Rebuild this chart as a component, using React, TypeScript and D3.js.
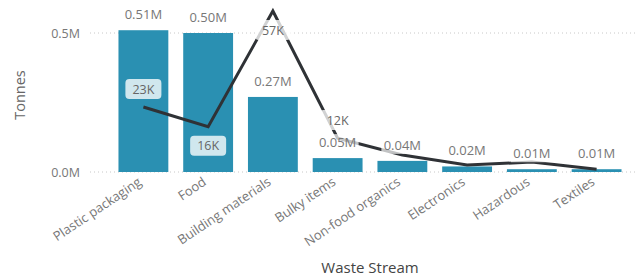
import { useEffect, useRef } from "react";
import * as d3 from "d3";

const categories = [
  "Plastic packaging",
  "Food",
  "Building materials",
  "Bulky items",
  "Non-food organics",
  "Electronics",
  "Hazardous",
  "Textiles",
];
// tonnes (millions), bar series
const tonnes = [0.51, 0.5, 0.27, 0.05, 0.04, 0.02, 0.01, 0.01];
// line series (thousands)
const lineValues = [23, 16, 57, 12, 6, 2.5, 3.5, 1];
const lineLabels = ["23K", "16K", "57K", "12K", "", "", "", ""];
const yTicks = [0, 0.5];

const W = 641;
const H = 280;
const FONT = "'Open Sans', 'Segoe UI', sans-serif";

export default function App() {
  const ref = useRef<SVGSVGElement>(null);

  useEffect(() => {
    if (!ref.current) return;
    const svg = d3.select(ref.current);
    svg.selectAll("*").remove();

    const x = d3
      .scaleBand<string>()
      .domain(categories)
      .range([112, 628])
      .paddingInner(0.23)
      .paddingOuter(0.1);
    const y = d3.scaleLinear().domain([0, 0.5]).range([172, 33]);
    const y2 = d3.scaleLinear().domain([0, 57]).range([172, 11]);

    // gridlines + y tick labels
    const grid = svg.append("g");
    yTicks.forEach((t) => {
      grid
        .append("line")
        .attr("x1", 90)
        .attr("x2", 636)
        .attr("y1", y(t))
        .attr("y2", y(t))
        .attr("stroke", "#c8c8c8")
        .attr("stroke-width", 1)
        .attr("stroke-dasharray", "1,3");
      grid
        .append("text")
        .attr("x", 80)
        .attr("y", y(t) + 4.5)
        .attr("text-anchor", "end")
        .attr("fill", "#777")
        .attr("font-size", "12.5px")
        .attr("font-family", FONT)
        .text(`${t.toFixed(1)}M`);
    });

    // bars
    svg
      .append("g")
      .selectAll("rect")
      .data(tonnes)
      .enter()
      .append("rect")
      .attr("x", (_, i) => x(categories[i]) ?? 0)
      .attr("y", (d) => y(d))
      .attr("width", x.bandwidth())
      .attr("height", (d) => y(0) - y(d))
      .attr("fill", "#2a90b2");

    // line
    const line = d3
      .line<number>()
      .x((_, i) => (x(categories[i]) ?? 0) + x.bandwidth() / 2)
      .y((d) => y2(d));
    svg
      .append("path")
      .datum(lineValues)
      .attr("fill", "none")
      .attr("stroke", "#2f3236")
      .attr("stroke-width", 3)
      .attr("stroke-linejoin", "miter")
      .attr("d", line);

    // bar labels
    const barLab = svg.append("g");
    tonnes.forEach((d, i) => {
      const cx = (x(categories[i]) ?? 0) + x.bandwidth() / 2;
      const by = y(d) - 11;
      barLab
        .append("rect")
        .attr("x", cx - 21)
        .attr("y", by - 13)
        .attr("width", 42)
        .attr("height", 17)
        .attr("fill", "#fff")
        .attr("opacity", 0.7);
      barLab
        .append("text")
        .attr("x", cx)
        .attr("y", by)
        .attr("text-anchor", "middle")
        .attr("fill", "#777")
        .attr("font-size", "13px")
        .attr("font-family", FONT)
        .text(`${d.toFixed(2)}M`);
    });

    // line labels
    const lineLab = svg.append("g");
    lineValues.forEach((d, i) => {
      const label = lineLabels[i];
      if (!label) return;
      const cx = (x(categories[i]) ?? 0) + x.bandwidth() / 2;
      const py = y2(d);
      const prev = i > 0 ? lineValues[i - 1] : d;
      const next = i < lineValues.length - 1 ? lineValues[i + 1] : d;
      const isPeak = d >= prev && d >= next;
      const isDip = d <= prev && d <= next;
      let cy = py - 18;
      if (isPeak || isDip) cy = py + 19;
      if (i === 0) cy = py - 18;
      lineLab
        .append("rect")
        .attr("x", cx - 18)
        .attr("y", cy - 10)
        .attr("width", 36)
        .attr("height", 20)
        .attr("rx", 4)
        .attr("fill", "#fff")
        .attr("opacity", 0.78);
      lineLab
        .append("text")
        .attr("x", cx)
        .attr("y", cy + 4.5)
        .attr("text-anchor", "middle")
        .attr("fill", "#666")
        .attr("font-size", "12.5px")
        .attr("font-family", FONT)
        .text(label);
    });

    // x tick labels
    const xl = svg.append("g");
    categories.forEach((c) => {
      const cx = (x(c) ?? 0) + x.bandwidth() / 2 - 1;
      xl.append("text")
        .attr("transform", `translate(${cx},${184}) rotate(-34)`)
        .attr("text-anchor", "end")
        .attr("fill", "#777")
        .attr("font-size", "13px")
        .attr("font-family", FONT)
        .text(c);
    });

    // axis titles
    svg
      .append("text")
      .attr("transform", `translate(25,95) rotate(-90)`)
      .attr("text-anchor", "middle")
      .attr("fill", "#666")
      .attr("font-size", "14.5px")
      .attr("font-family", FONT)
      .text("Tonnes");
    svg
      .append("text")
      .attr("x", 370)
      .attr("y", 273)
      .attr("text-anchor", "middle")
      .attr("fill", "#444")
      .attr("font-size", "15px")
      .attr("font-family", FONT)
      .text("Waste Stream");
  }, []);

  return (
    <svg
      ref={ref}
      width={W}
      height={H}
      viewBox={`0 0 ${W} ${H}`}
      style={{ position: "absolute", left: 0, top: 0, background: "#fff" }}
    />
  );
}
